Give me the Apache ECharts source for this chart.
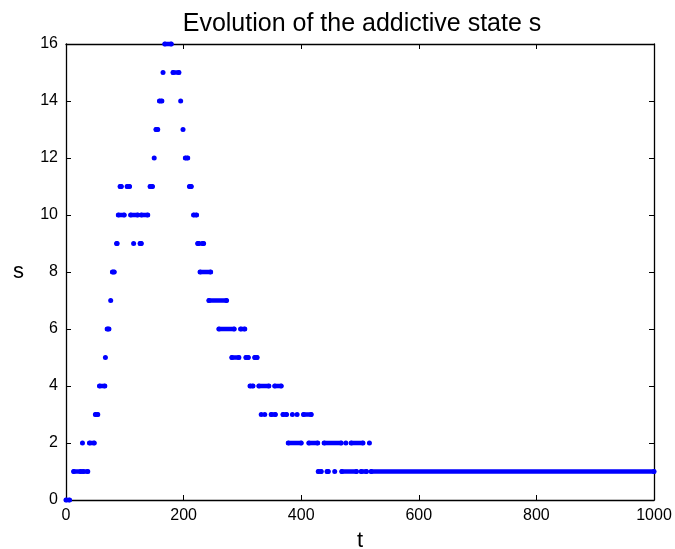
<!DOCTYPE html>
<html>
<head>
<meta charset="utf-8">
<script src="https://cdn.jsdelivr.net/npm/echarts@6/dist/echarts.min.js"></script>
<style>
  html, body { margin: 0; padding: 0; background: #ffffff; }
  #chart { width: 675px; height: 549px; }
</style>
</head>
<body>
<div id="chart"></div>
<script>
// runs of visible dots, one list per level s = 0..16, each run is [tStart, tEnd]
const sLevels = [0, 1, 2, 3, 4, 5, 6, 7, 8, 9, 10, 11, 12, 13, 14, 15, 16];
const runsByLevel = [
    [[0, 6]],
    [[13, 25], [29, 37], [429, 434], [444, 446], [457, 457], [469, 494], [502, 511], [519, 1000]],
    [[28, 28], [40, 48], [378, 400], [413, 428], [439, 468], [476, 476], [485, 505], [516, 516]],
    [[50, 54], [332, 332], [338, 338], [349, 356], [369, 375], [385, 385], [393, 393], [404, 417]],
    [[57, 66], [313, 318], [328, 345], [355, 366]],
    [[67, 67], [282, 294], [306, 310], [321, 325]],
    [[70, 73], [260, 286], [297, 304]],
    [[76, 76], [243, 273]],
    [[79, 82], [228, 246]],
    [[86, 87], [115, 115], [126, 128], [224, 226], [232, 234]],
    [[89, 99], [110, 122], [128, 139], [217, 222]],
    [[92, 94], [104, 108], [143, 147], [210, 213]],
    [[150, 150], [203, 207]],
    [[153, 156], [199, 199]],
    [[159, 163], [195, 195]],
    [[165, 165], [182, 192]],
    [[168, 179]]
];
const xTicks = [0, 200, 400, 600, 800, 1000];
const yTicks = [0, 2, 4, 6, 8, 10, 12, 14, 16];

const font = '"Liberation Sans", Arial, Helvetica, sans-serif';

const lineData = [];
const dotData = [];
runsByLevel.forEach(function (runs, i) {
    const s = sLevels[i];
    runs.forEach(function (r) {
        lineData.push([r[0], s], [r[1], s], ['-', '-']);
        dotData.push([r[0], s]);
        if (r[1] !== r[0]) dotData.push([r[1], s]);
    });
});

const myChart = echarts.init(document.getElementById('chart'), null, {renderer: 'canvas'});

const tickStyle = {show: true, inside: true, length: 5, lineStyle: {color: '#000', width: 1}};
const lineStyleAxis = {show: true, onZero: false, lineStyle: {color: '#000', width: 1.3}};

const option = {
    backgroundColor: '#ffffff',
    animation: false,
    title: {
        text: 'Evolution of the addictive state s',
        left: 357,
        textAlign: 'center',
        top: 7,
        textStyle: {color: '#000', fontFamily: font, fontWeight: 'normal', fontSize: 25}
    },
    grid: {left: 66, right: 21, top: 44, bottom: 49, outerBoundsMode: 'none'},
    xAxis: [
        {
            type: 'value',
            min: 0,
            max: 1000,
            interval: 200,
            name: 't',
            nameLocation: 'middle',
            nameGap: 30,
            nameTextStyle: {color: '#000', fontFamily: font, fontSize: 22},
            axisLine: lineStyleAxis,
            axisTick: tickStyle,
            splitLine: {show: false},
            axisLabel: {
                color: '#000',
                fontFamily: font,
                fontSize: 16,
                margin: 8,
                formatter: function (v) { return xTicks.indexOf(v) >= 0 ? String(v) : ''; }
            }
        },
        {
            type: 'value',
            position: 'top',
            min: 0,
            max: 1000,
            interval: 200,
            axisLine: lineStyleAxis,
            axisTick: tickStyle,
            splitLine: {show: false},
            axisLabel: {show: false}
        }
    ],
    yAxis: [
        {
            type: 'value',
            min: 0,
            max: 16,
            interval: 2,
            name: 's',
            nameLocation: 'middle',
            nameRotate: 0,
            nameGap: 42,
            nameTextStyle: {color: '#000', fontFamily: font, fontSize: 22},
            axisLine: lineStyleAxis,
            axisTick: tickStyle,
            splitLine: {show: false},
            axisLabel: {
                color: '#000',
                fontFamily: font,
                fontSize: 16,
                margin: 8,
                formatter: function (v) { return yTicks.indexOf(v) >= 0 ? String(v) : ''; }
            }
        },
        {
            type: 'value',
            position: 'right',
            min: 0,
            max: 16,
            interval: 2,
            axisLine: lineStyleAxis,
            axisTick: tickStyle,
            splitLine: {show: false},
            axisLabel: {show: false}
        }
    ],
    series: [
        {
            type: 'line',
            data: lineData,
            showSymbol: false,
            connectNulls: false,
            clip: false,
            lineStyle: {color: '#0000ff', width: 4.5, cap: 'round'},
            itemStyle: {color: '#0000ff'},
            z: 3
        },
        {
            type: 'scatter',
            data: dotData,
            symbol: 'circle',
            symbolSize: 5,
            clip: false,
            itemStyle: {color: '#0000ff', opacity: 1},
            z: 3
        }
    ]
};
myChart.setOption(option);
window.onresize = myChart.resize;
</script>
</body>
</html>
